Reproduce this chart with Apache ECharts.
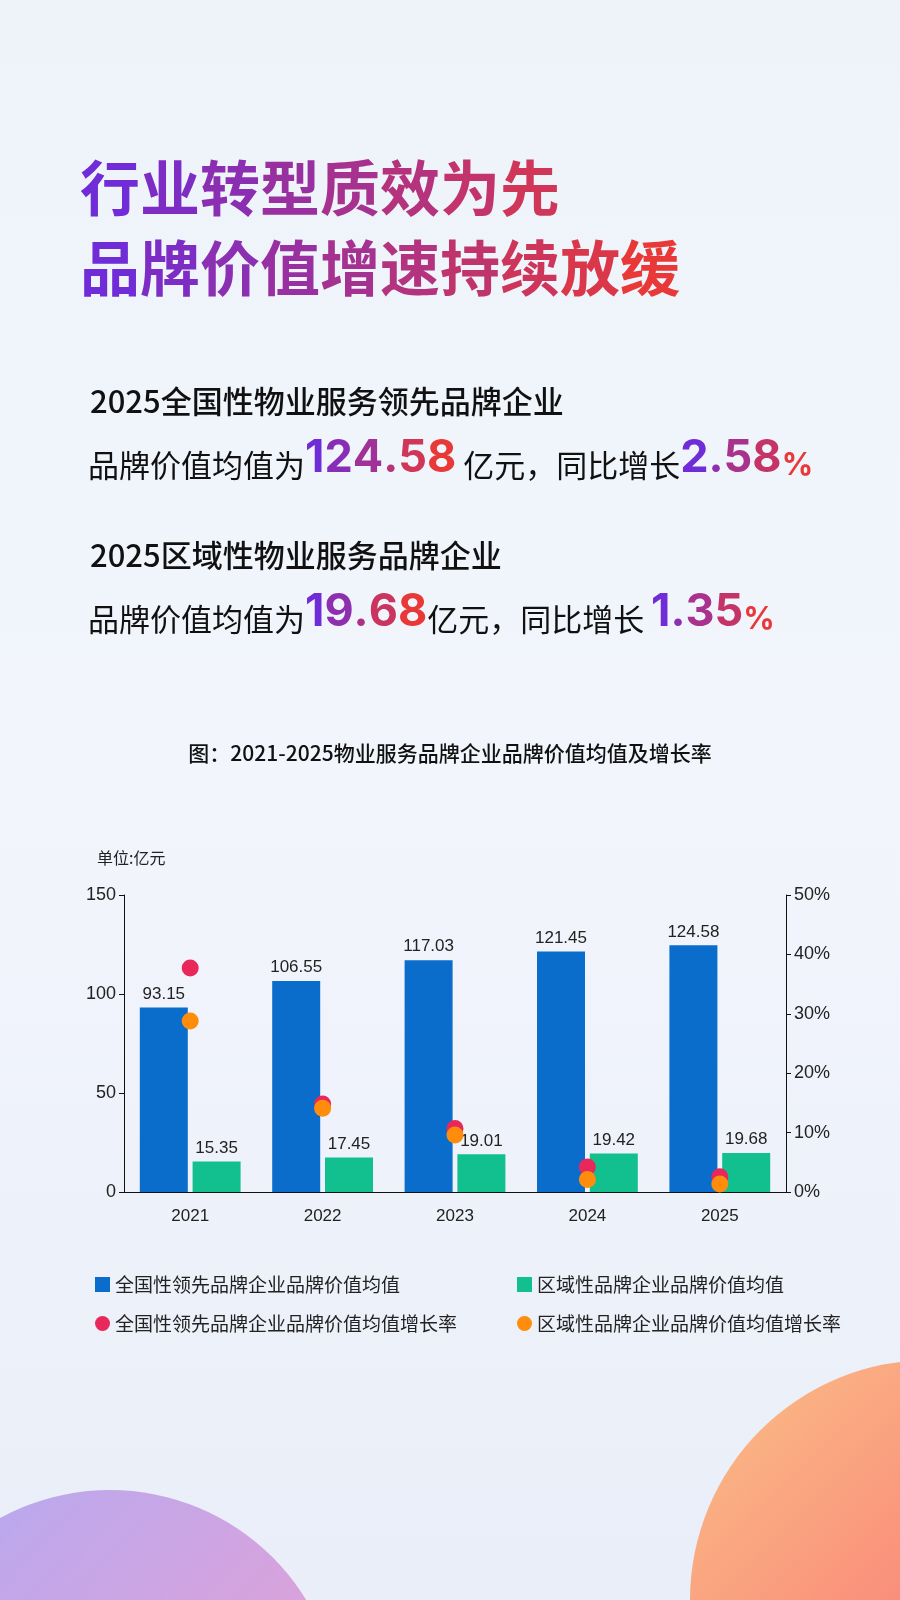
<!DOCTYPE html>
<html><head><meta charset="utf-8">
<script src="https://cdn.jsdelivr.net/npm/echarts@6/dist/echarts.min.js"></script>
<style>html,body{margin:0;padding:0;}#c{width:900px;height:1600px;}</style>
</head><body><div id="c"></div>
<script>
const categories = ['2021','2022','2023','2024','2025'];
const nationalValue = [93.15,106.55,117.03,121.45,124.58];
const regionalValue = [15.35,17.45,19.01,19.42,19.68];
const nationalRate = [37.7,14.8,10.7,4.2,2.58];
const regionalRate = [28.8,14.1,9.6,2.1,1.35];
const names = ['全国性领先品牌企业品牌价值均值','区域性品牌企业品牌价值均值','全国性领先品牌企业品牌价值均值增长率','区域性品牌企业品牌价值均值增长率'];

const chart = echarts.init(document.getElementById('c'));
const F = '"Noto Sans CJK SC", sans-serif';
function mix(t){const a=[112,44,214],b=[232,56,56];return 'rgb('+a.map((v,i)=>Math.round(v+(b[i]-v)*t)).join(',')+')';}
function gradText(str, base, prefix, t0, t1){
  const chars=[...str];const rich={};let text='';
  chars.forEach((ch,i)=>{const k=prefix+i;const t=t0+(t1-t0)*(chars.length>1?i/(chars.length-1):0);rich[k]=Object.assign({},base,{fill:mix(t)});text+='{'+k+'|'+ch+'}';});
  return {text,rich};
}
function headline(str,top,t1){
  const g=gradText(str,{fontSize:60,fontWeight:'bold',fontFamily:F},'h',0,t1);
  return {type:'text',left:80,top,style:{text:g.text,rich:g.rich}};
}
function valueLine(top,pre,num,mid,pct){
  const rich={n:{fontSize:31,fill:'#111',fontFamily:F,verticalAlign:'bottom'}};
  const a=gradText(num,{fontSize:45,fontWeight:'bold',fontFamily:'Inter, sans-serif',verticalAlign:'bottom'},'a',0,1);
  const b=gradText(pct,{fontSize:45,fontWeight:'bold',fontFamily:'Inter, sans-serif',verticalAlign:'bottom'},'b',0,0.7);
  Object.assign(rich,a.rich,b.rich);
  rich.p={fontSize:31,fontWeight:'bold',fill:'#e83838',fontFamily:'Inter, sans-serif',verticalAlign:'bottom'};
  return {type:'text',left:88,top,style:{text:'{n|'+pre+'}'+a.text+'{n|'+mid+'}'+b.text+'{p|%}',rich}};
}
function legend(i,left,top,icon){return {data:[names[i]],left,top,icon,itemWidth:15,itemHeight:15,textStyle:{fontSize:19,color:'#222',fontFamily:F}};}
chart.setOption({
  backgroundColor:new echarts.graphic.LinearGradient(0,0,0,1,[{offset:0,color:'#eef3fa'},{offset:0.5,color:'#f2f5fc'},{offset:1,color:'#eaeef8'}]),
  graphic:[
    {type:'circle',shape:{cx:110,cy:1720,r:230},style:{fill:new echarts.graphic.LinearGradient(0,0,1,1,[{offset:0,color:'#8a7cf0'},{offset:0.6,color:'#d070c8'},{offset:1,color:'#ff8a60'}]),opacity:0.6},z:0},
    {type:'circle',shape:{cx:930,cy:1600,r:240},style:{fill:new echarts.graphic.LinearGradient(0,0,1,1,[{offset:0,color:'#ffb060'},{offset:0.5,color:'#ff6a50'},{offset:1,color:'#e02a6a'}]),opacity:0.75},z:0},
    headline('行业转型质效为先',158,0.8),
    headline('品牌价值增速持续放缓',238,1),
    {type:'text',left:90,top:386,style:{text:'2025全国性物业服务领先品牌企业',font:'500 31px '+F,fill:'#111'}},
    valueLine(436,'品牌价值均值为','124.58',' 亿元，同比增长','2.58'),
    {type:'text',left:90,top:540,style:{text:'2025区域性物业服务品牌企业',font:'500 31px '+F,fill:'#111'}},
    valueLine(590,'品牌价值均值为','19.68','亿元，同比增长 ','1.35'),
    {type:'text',left:'center',top:743,style:{text:'图：2021-2025物业服务品牌企业品牌价值均值及增长率',font:'500 21px '+F,fill:'#111'}},
    {type:'text',left:97,top:850,style:{text:'单位:亿元',font:'16px '+F,fill:'#222'}}
  ],
  legend:[legend(0,90,1270,'rect'),legend(1,512,1270,'rect'),legend(2,90,1309,'circle'),legend(3,512,1309,'circle')],
  grid:{left:124,right:114,top:895,bottom:408},
  xAxis:{type:'category',data:categories,axisTick:{show:false},axisLine:{lineStyle:{color:'#111'}},axisLabel:{fontSize:17,color:'#222',margin:16}},
  yAxis:[
    {type:'value',min:0,max:150,interval:50,splitLine:{show:false},axisLine:{show:true,lineStyle:{color:'#111'}},axisTick:{show:true,length:5},axisLabel:{fontSize:18,color:'#222'}},
    {type:'value',min:0,max:50,interval:10,splitLine:{show:false},axisLine:{show:true,lineStyle:{color:'#111'}},axisTick:{show:true,length:5},axisLabel:{fontSize:18,color:'#222',formatter:'{value}%'}}
  ],
  series:[
    {name:names[0],type:'bar',data:nationalValue,barWidth:48,barGap:'10%',itemStyle:{color:'#0a6dcc'},label:{show:true,position:'top',fontSize:17,color:'#222'}},
    {name:names[1],type:'bar',data:regionalValue,barWidth:48,itemStyle:{color:'#12bf8e'},label:{show:true,position:'top',fontSize:17,color:'#222'}},
    {name:names[2],type:'scatter',yAxisIndex:1,data:nationalRate,symbolSize:17,itemStyle:{color:'#e8285a',opacity:1},z:5},
    {name:names[3],type:'scatter',yAxisIndex:1,data:regionalRate,symbolSize:17,itemStyle:{color:'#ff8c0a',opacity:1},z:6}
  ]
});
</script></body></html>
